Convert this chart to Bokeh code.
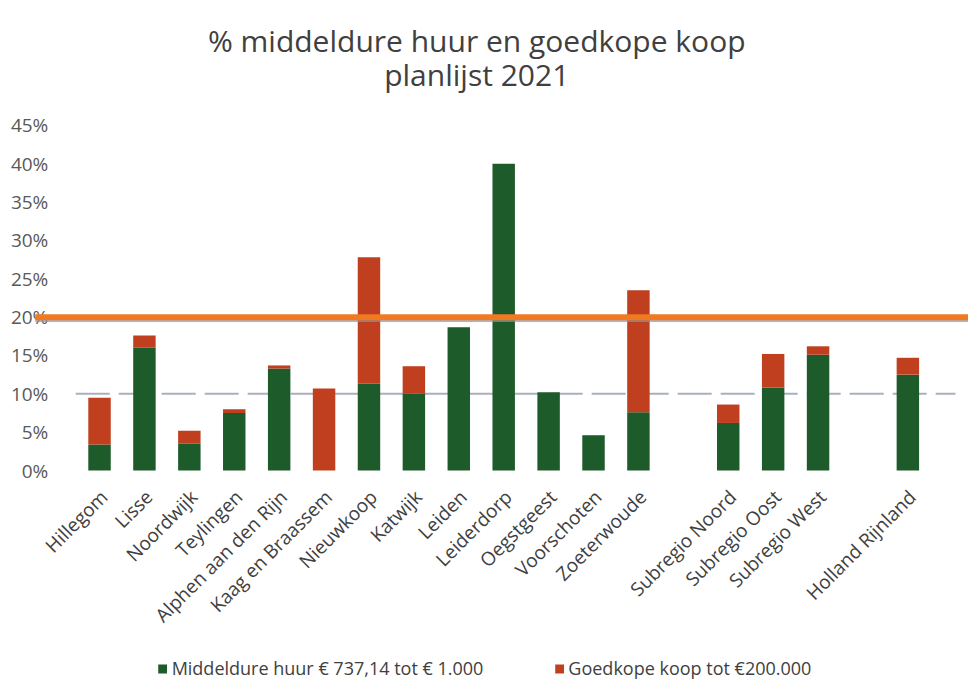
import math
from bokeh.plotting import figure
from bokeh.models import ColumnDataSource, Legend, LegendItem, Range1d
from bokeh.core.properties import value
from bokeh.embed import file_html
from bokeh.resources import INLINE

# ---- data ----
title_lines = ["% middeldure huur en goedkope koop", "planlijst 2021"]
categories = ["Hillegom", "Lisse", "Noordwijk", "Teylingen", "Alphen aan den Rijn",
              "Kaag en Braassem", "Nieuwkoop", "Katwijk", "Leiden", "Leiderdorp",
              "Oegstgeest", "Voorschoten", "Zoeterwoude",
              "Subregio Noord", "Subregio Oost", "Subregio West",
              "Holland Rijnland"]
# slot index of each category (empty slots separate the groups)
slots = [0, 1, 2, 3, 4, 5, 6, 7, 8, 9, 10, 11, 12, 14, 15, 16, 18]
middeldure_huur = [3.4, 16.0, 3.5, 7.5, 13.3, 0.0, 11.3, 10.0, 18.7, 40.0,
                   10.2, 4.6, 7.6, 6.2, 10.8, 15.1, 12.5]
goedkope_koop = [6.1, 1.6, 1.7, 0.5, 0.4, 10.7, 16.5, 3.6, 0.0, 0.0,
                 0.0, 0.0, 15.9, 2.4, 4.4, 1.1, 2.2]
target_line = 20
reference_line = 10
y_ticks = [0, 5, 10, 15, 20, 25, 30, 35, 40, 45]
y_tick_labels = [f"{t}%" for t in y_ticks]
legend_labels = ["Middeldure huur € 737,14 tot € 1.000", "Goedkope koop tot €200.000"]

GREEN = "#1E5B2A"
RED = "#BF3F1F"
ORANGE = "#F07A22"
TEXT = "#404040"
FONT = "Open Sans"

src = ColumnDataSource(dict(
    x=slots,
    huur=middeldure_huur,
    top=[a + b for a, b in zip(middeldure_huur, goedkope_koop)],
))

# the frame covers the whole canvas; 0% sits at 470 px, 45% at 125 px
p = figure(width=968, height=683, output_backend="svg", toolbar_location=None,
           x_range=Range1d(-2.205, 19.35), y_range=Range1d(-27.78, 61.3),
           min_border=0)
p.background_fill_color = "white"
p.border_fill_color = "white"
p.outline_line_color = None
p.grid.visible = False
p.axis.visible = False

# titles
p.text(x=[8.40, 8.40], y=[56.1, 51.7], text=title_lines, text_align="center",
       text_baseline="alphabetic", text_font=value(FONT), text_font_size="30px",
       text_color=TEXT)

# 10% reference line (behind bars)
p.line(x=[-0.53, 19.06], y=[reference_line, reference_line], line_color="#A9B0BE",
       line_width=2, line_dash="34 9")

r_huur = p.vbar(x="x", top="huur", bottom=0, width=0.5, source=src,
                fill_color=GREEN, line_color=None)
r_koop = p.vbar(x="x", top="top", bottom="huur", width=0.5, source=src,
                fill_color=RED, line_color=None)

# y tick labels
p.text(x=[-1.14] * len(y_ticks), y=y_ticks, text=y_tick_labels,
       text_align="right", text_baseline="middle", text_font=value(FONT),
       text_font_size="19px", text_color="#595959")

# 20% target line with a soft shadow
p.line(x=[-1.43, 19.4], y=[target_line - 0.45, target_line - 0.45],
       line_color="#8E93A6", line_width=3, line_alpha=0.7)
p.line(x=[-1.43, 19.4], y=[target_line, target_line], line_color=ORANGE,
       line_width=6)

# category labels, rotated 45 degrees
p.text(x=[s + 0.1 for s in slots], y=[-3.0] * len(slots), text=categories,
       angle=math.pi / 4, text_align="right", text_baseline="middle",
       text_font=value(FONT), text_font_size="19px", text_color=TEXT)

legend = Legend(items=[LegendItem(label=legend_labels[0], renderers=[r_huur]),
                       LegendItem(label=legend_labels[1], renderers=[r_koop])],
                orientation="horizontal", location="bottom_center",
                label_text_font=FONT, label_text_font_size="18px",
                label_text_color=TEXT, glyph_width=11, glyph_height=11,
                spacing=70, border_line_color=None, background_fill_alpha=0,
                padding=2, margin=3, label_standoff=4)
p.add_layout(legend)

open("out.html", "w").write(file_html(p, INLINE))
